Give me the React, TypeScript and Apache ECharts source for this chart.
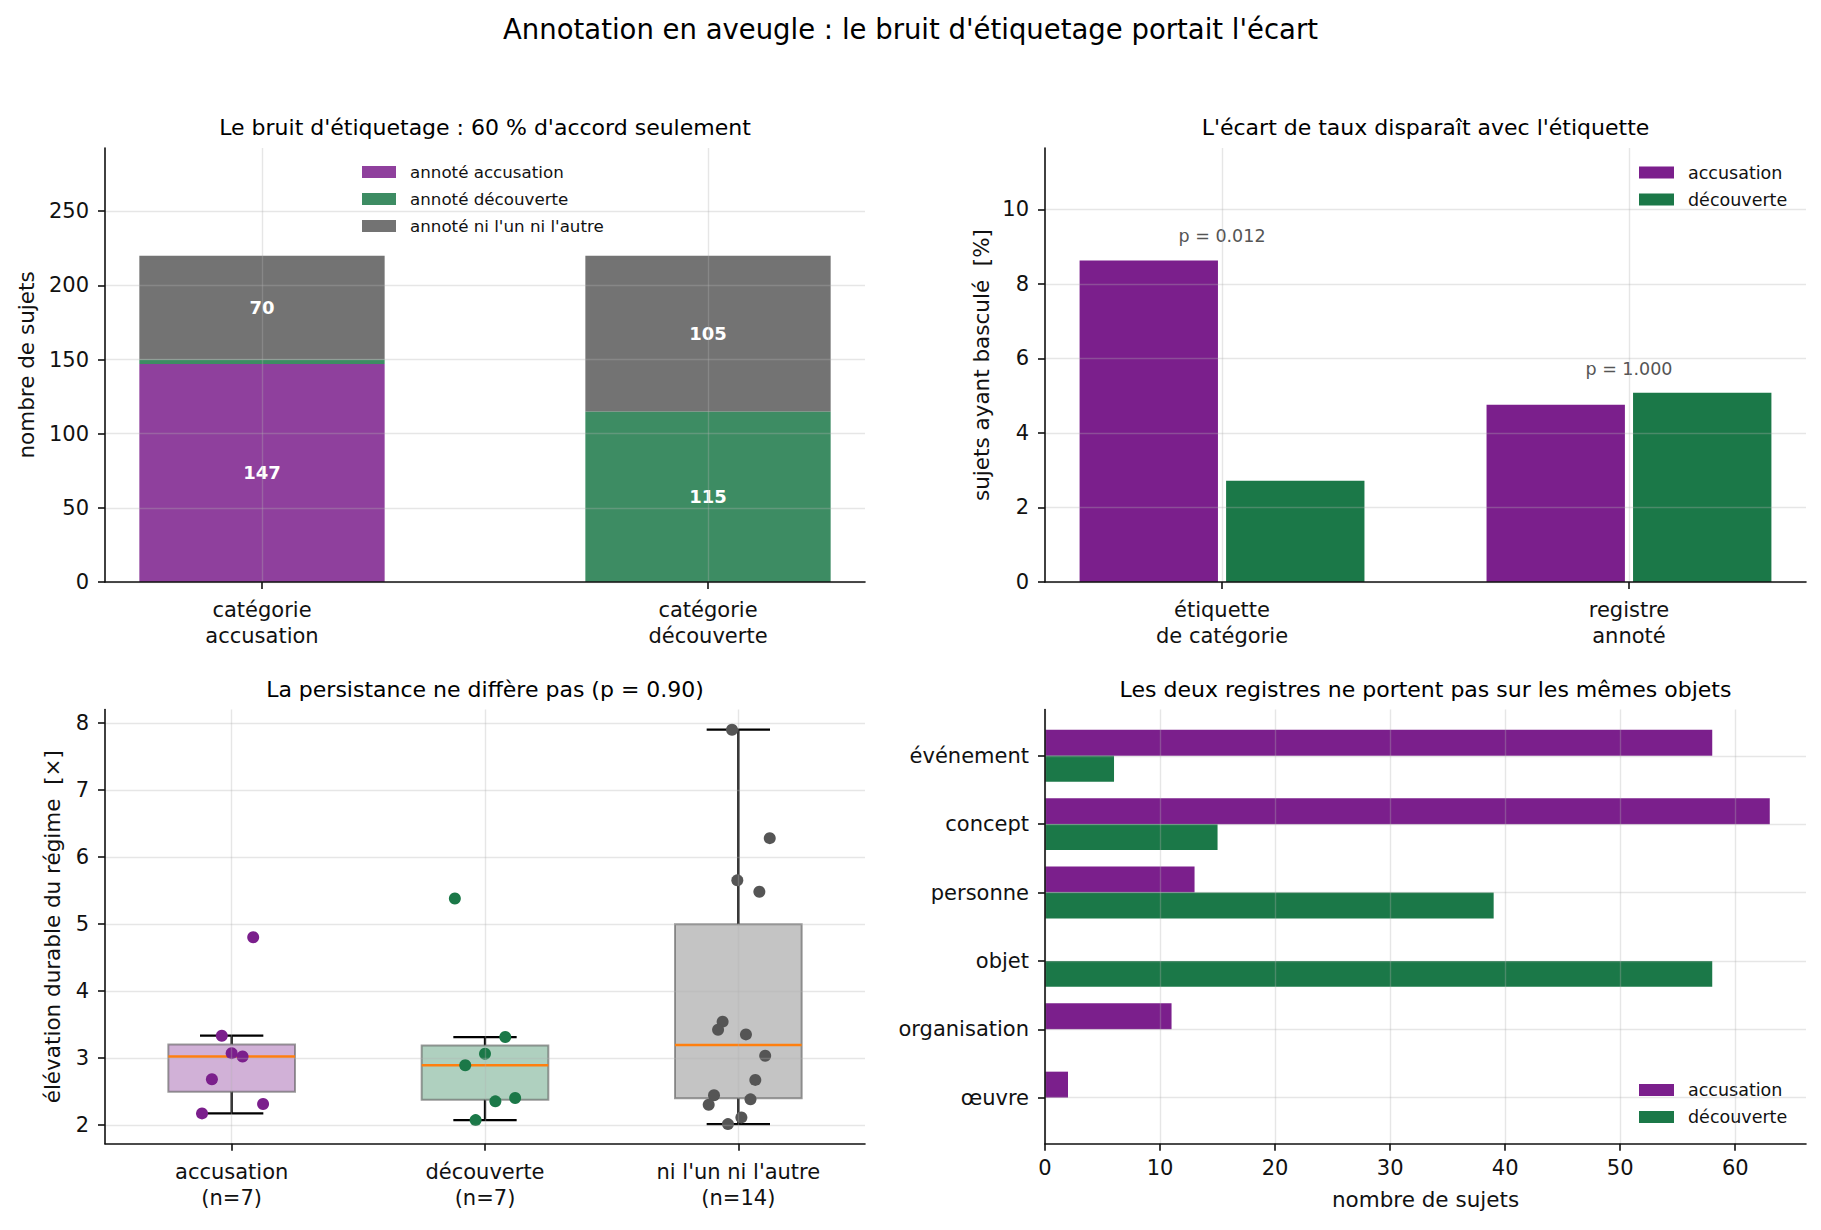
import React, { useEffect, useRef } from "react";
import * as echarts from "echarts";

const FONT = "DejaVu Sans";
const INK = "#111111";

// ---------- Panel A : stacked bars ----------
const stackCategories = ["catégorie\naccusation", "catégorie\ndécouverte"];
const stackNames = ["annoté accusation", "annoté découverte", "annoté ni l'un ni l'autre"];
const annotatedAccusation = [147, 0];
const annotatedDecouverte = [3, 115];
const annotatedNeither = [70, 105];
const ticksA = [0, 50, 100, 150, 200, 250];

// ---------- Panel B : grouped bars ----------
const rateGroups = ["étiquette\nde catégorie", "registre\nannoté"];
const rateAccusation = [8.63, 4.76];
const rateDecouverte = [2.72, 5.08];
const pValueLabels = ["p = 0.012", "p = 1.000"];
const ticksB = [0, 2, 4, 6, 8, 10];

// ---------- Panel C : boxplots + jittered points ----------
const persistGroups = ["accusation\n(n=7)", "découverte\n(n=7)", "ni l'un ni l'autre\n(n=14)"];
const persistAccusation = [4.8, 3.33, 3.07, 3.02, 2.68, 2.31, 2.17];
const jitterAccusation = [0.085, -0.039, 0.0, 0.043, -0.078, 0.124, -0.117];
const persistDecouverte = [5.38, 3.31, 3.06, 2.89, 2.4, 2.35, 2.07];
const jitterDecouverte = [-0.119, 0.08, 0.0, -0.078, 0.119, 0.041, -0.037];
const persistNeither = [7.9, 6.28, 5.65, 5.48, 3.54, 3.42, 3.35, 3.03, 2.67, 2.44, 2.38, 2.3, 2.11, 2.01];
const jitterNeither = [-0.025, 0.124, -0.004, 0.083, -0.062, -0.08, 0.03, 0.106, 0.067, -0.096, 0.048, -0.117, 0.012, -0.041];
const ticksC = [2, 3, 4, 5, 6, 7, 8];

// ---------- Panel D : horizontal grouped bars ----------
const objectTypes = ["événement", "concept", "personne", "objet", "organisation", "œuvre"];
const countAccusation = [58, 63, 13, 0, 11, 2];
const countDecouverte = [6, 15, 39, 58, 0, 0];
const ticksDx = [0, 10, 20, 30, 40, 50, 60];
const ticksDy = [0, 1, 2, 3, 4, 5];

const PURPLE = "#7b1f8c";
const GREEN = "#1b7848";
const rgba = (hex: string, a: number) => {
  const n = parseInt(hex.slice(1), 16);
  return `rgba(${(n >> 16) & 255},${(n >> 8) & 255},${n & 255},${a})`;
};
const GREY_BASE = "#5b5b5b";
const GREY_POINT = "#555555";

function quantile(s: number[], q: number) {
  const pos = (s.length - 1) * q;
  const lo = Math.floor(pos);
  const hi = Math.ceil(pos);
  return s[lo] + (s[hi] - s[lo]) * (pos - lo);
}
function boxStats(vals: number[]) {
  const s = [...vals].sort((a, b) => a - b);
  const q1 = quantile(s, 0.25);
  const med = quantile(s, 0.5);
  const q3 = quantile(s, 0.75);
  const iqr = q3 - q1;
  const lo = s.find((v) => v >= q1 - 1.5 * iqr) as number;
  const hi = [...s].reverse().find((v) => v <= q3 + 1.5 * iqr) as number;
  return [lo, q1, med, q3, hi];
}

const gridLine = { show: true, lineStyle: { color: "rgba(176,176,176,0.32)", width: 1.4 } };
const axisLineStyle = { color: INK, width: 1.6 };

function valueAxis(gridIndex: number, min: number, max: number, ticks: number[], extra: any = {}, labelExtra: any = {}) {
  return {
    type: "value",
    gridIndex,
    min,
    max,
    z: 5,
    axisLine: { show: true, onZero: false, lineStyle: axisLineStyle },
    axisTick: { show: true, inside: false, length: 7, customValues: ticks, lineStyle: axisLineStyle },
    axisLabel: {
      customValues: ticks,
      color: INK,
      fontFamily: FONT,
      fontSize: 21,
      margin: 15,
      ...labelExtra,
    },
    splitLine: gridLine,
    nameTextStyle: { fontFamily: FONT, fontSize: 21.5, color: INK },
    nameLocation: "middle",
    nameMoveOverlap: false,
    ...extra,
  };
}

function App() {
  const ref = useRef<HTMLDivElement>(null);
  useEffect(() => {
    document.body.style.margin = "0";
    if (!ref.current) return;
    const chart = echarts.init(ref.current, undefined, { renderer: "svg" });

    // Panel A data
    const stackSeries = [annotatedAccusation, annotatedDecouverte, annotatedNeither];
    const stackColors = [rgba(PURPLE, 0.85), rgba(GREEN, 0.85), rgba(GREY_BASE, 0.85)];
    const bottoms = stackCategories.map(() => 0);
    const seriesA = stackSeries.map((vals, s) => {
      const data = vals.map((v, i) => {
        const b = bottoms[i];
        bottoms[i] += v;
        return [i, b, b + v, v];
      });
      const color = stackColors[s];
      return {
        type: "custom",
        name: stackNames[s],
        xAxisIndex: 0,
        yAxisIndex: 0,
        itemStyle: { color },
        encode: { x: 0, y: [1, 2] },
        data,
        renderItem: (params: any, api: any) => {
          const x = api.value(0), y0 = api.value(1), y1 = api.value(2), v = api.value(3);
          if (!v) return null;
          const W = 0.55;
          const p0 = api.coord([x - W / 2, y1]);
          const p1 = api.coord([x + W / 2, y0]);
          const children: any[] = [
            { type: "rect", shape: { x: p0[0], y: p0[1], width: p1[0] - p0[0], height: p1[1] - p0[1] }, style: { fill: color } },
          ];
          if (v >= 10) {
            children.push({
              type: "text",
              x: (p0[0] + p1[0]) / 2,
              y: (p0[1] + p1[1]) / 2,
              style: { text: String(v), fill: "#ffffff", fontFamily: FONT, fontSize: 18, fontWeight: "bold", align: "center", verticalAlign: "middle" },
            });
          }
          return { type: "group", children };
        },
      };
    });

    // Panel B
    const rateSeries = [rateAccusation, rateDecouverte];
    const rateColors = [PURPLE, GREEN];
    const rateNames = ["accusation", "découverte"];
    const seriesB: any[] = rateSeries.map((vals, s) => {
      const off = s === 0 ? -0.18 : 0.18;
      const color = rateColors[s];
      return {
        type: "custom",
        name: rateNames[s],
        xAxisIndex: 1,
        yAxisIndex: 1,
        itemStyle: { color },
        encode: { x: 0, y: 1 },
        data: vals.map((v, i) => [i, v]),
        renderItem: (params: any, api: any) => {
          const x = api.value(0) + off, v = api.value(1);
          const W = 0.34;
          const p0 = api.coord([x - W / 2, v]);
          const p1 = api.coord([x + W / 2, 0]);
          return { type: "rect", shape: { x: p0[0], y: p0[1], width: p1[0] - p0[0], height: p1[1] - p0[1] }, style: { fill: color } };
        },
      };
    });
    seriesB.push({
      type: "custom",
      name: "p",
      xAxisIndex: 1,
      yAxisIndex: 1,
      encode: { x: 0, y: 1 },
      data: rateGroups.map((_, i) => [i, Math.max(rateAccusation[i], rateDecouverte[i])]),
      renderItem: (params: any, api: any) => {
        const p = api.coord([api.value(0), api.value(1) + 0.65]);
        return {
          type: "text",
          x: p[0],
          y: p[1],
          style: { text: pValueLabels[params.dataIndex], fill: "#555555", fontFamily: FONT, fontSize: 17.5, align: "center", verticalAlign: "middle" },
        };
      },
    });

    // Panel C
    const persistSets = [persistAccusation, persistDecouverte, persistNeither];
    const jitterSets = [jitterAccusation, jitterDecouverte, jitterNeither];
    const boxFills = [rgba(PURPLE, 0.35), rgba(GREEN, 0.35), rgba(GREY_POINT, 0.35)];
    const pointColors = [PURPLE, GREEN, GREY_POINT];
    const seriesC: any[] = [
      {
        type: "custom",
        name: "boîtes",
        xAxisIndex: 2,
        yAxisIndex: 2,
        encode: { x: 0, y: [1, 2, 3, 4, 5] },
        data: persistSets.map((vals, i) => [i, ...boxStats(vals)]),
        renderItem: (params: any, api: any) => {
          const i = api.value(0);
          const lo = api.value(1), q1 = api.value(2), med = api.value(3), q3 = api.value(4), hi = api.value(5);
          const BW = 0.25, CW = 0.125;
          const c = (x: number, y: number) => api.coord([x, y]);
          const wl = { stroke: "#000000", lineWidth: 2.3 };
          const pLo = c(i, lo), pQ1 = c(i, q1), pQ3 = c(i, q3), pHi = c(i, hi);
          const b0 = c(i - BW, q3), b1 = c(i + BW, q1);
          const m0 = c(i - BW, med), m1 = c(i + BW, med);
          const cl0 = c(i - CW, lo), cl1 = c(i + CW, lo), ch0 = c(i - CW, hi), ch1 = c(i + CW, hi);
          return {
            type: "group",
            children: [
              { type: "line", shape: { x1: pLo[0], y1: pLo[1], x2: pQ1[0], y2: pQ1[1] }, style: wl },
              { type: "line", shape: { x1: pQ3[0], y1: pQ3[1], x2: pHi[0], y2: pHi[1] }, style: wl },
              { type: "line", shape: { x1: cl0[0], y1: cl0[1], x2: cl1[0], y2: cl1[1] }, style: wl },
              { type: "line", shape: { x1: ch0[0], y1: ch0[1], x2: ch1[0], y2: ch1[1] }, style: wl },
              {
                type: "rect",
                shape: { x: b0[0], y: b0[1], width: b1[0] - b0[0], height: b1[1] - b0[1] },
                style: { fill: boxFills[params.dataIndex], stroke: "rgba(90,90,90,0.6)", lineWidth: 2 },
              },
              { type: "line", shape: { x1: m0[0], y1: m0[1], x2: m1[0], y2: m1[1] }, style: { stroke: "#ff7f0e", lineWidth: 2.5 } },
            ],
          };
        },
      },
      ...persistSets.map((vals, g) => ({
        type: "scatter",
        name: "points " + persistGroups[g],
        xAxisIndex: 2,
        yAxisIndex: 2,
        symbol: "circle",
        symbolSize: 12,
        itemStyle: { color: pointColors[g], opacity: 1 },
        data: vals.map((v, k) => [g + jitterSets[g][k], v]),
        z: 3,
      })),
    ];

    // Panel D
    const countSeries = [countAccusation, countDecouverte];
    const seriesD = countSeries.map((vals, s) => {
      const off = s === 0 ? -0.19 : 0.19;
      const color = rateColors[s];
      return {
        type: "custom",
        name: rateNames[s],
        xAxisIndex: 3,
        yAxisIndex: 3,
        itemStyle: { color },
        encode: { x: 0, y: 1 },
        data: vals.map((v, i) => [v, i]),
        renderItem: (params: any, api: any) => {
          const v = api.value(0), c = api.value(1) + off;
          if (!v) return null;
          const H = 0.38;
          const a = api.coord([0, c - H / 2]);
          const b = api.coord([v, c + H / 2]);
          return {
            type: "rect",
            shape: { x: Math.min(a[0], b[0]), y: Math.min(a[1], b[1]), width: Math.abs(b[0] - a[0]), height: Math.abs(b[1] - a[1]) },
            style: { fill: color },
          };
        },
      };
    });

    const titleText = (text: string, x: number, y: number, size: number) => ({
      type: "text",
      x,
      y,
      z: 10,
      style: { text, fill: "#000000", fontFamily: FONT, fontSize: size, align: "center", verticalAlign: "middle" },
    });

    const legendBase = {
      orient: "vertical",
      icon: "rect",
      itemWidth: 35,
      itemHeight: 12,
      itemGap: 7,
      padding: 0,
      selectedMode: false,
      textStyle: { fontFamily: FONT, fontSize: 17.5, color: INK, lineHeight: 20, padding: [0, 0, 0, 9] },
    };

    const option: any = {
      animation: false,
      backgroundColor: "#ffffff",
      textStyle: { fontFamily: FONT },
      graphic: [
        titleText("Annotation en aveugle : le bruit d'étiquetage portait l'écart", 910.5, 28.5, 27.5),
        titleText("Le bruit d'étiquetage : 60 % d'accord seulement", 485, 127.5, 22),
        titleText("L'écart de taux disparaît avec l'étiquette", 1425.5, 127.5, 22),
        titleText("La persistance ne diffère pas (p = 0.90)", 485, 689, 22),
        titleText("Les deux registres ne portent pas sur les mêmes objets", 1425.5, 689, 22),
      ],
      grid: [
        { left: 105, top: 148, width: 760, height: 434, outerBoundsMode: "none" },
        { left: 1045, top: 148, width: 761, height: 434, outerBoundsMode: "none" },
        { left: 105, top: 709.6, width: 760, height: 434.2, outerBoundsMode: "none" },
        { left: 1045, top: 709.6, width: 761, height: 434.2, outerBoundsMode: "none" },
      ],
      legend: [
        {
          ...legendBase,
          data: stackNames,
          left: 362,
          top: 162,
          itemWidth: 34,
          textStyle: { ...legendBase.textStyle, fontSize: 16.7 },
        },
        { ...legendBase, data: rateNames, left: 1639, top: 162.5 },
        { ...legendBase, data: rateNames, left: 1639, top: 1080 },
      ],
      xAxis: [
        valueAxis(0, -0.352, 1.352, [0, 1], {}, { formatter: (v: number) => stackCategories[Math.round(v)], lineHeight: 26, margin: 15 }),
        valueAxis(1, -0.435, 1.435, [0, 1], {}, { formatter: (v: number) => rateGroups[Math.round(v)], lineHeight: 26, margin: 15 }),
        valueAxis(2, -0.5, 2.5, [0, 1, 2], {}, { formatter: (v: number) => persistGroups[Math.round(v)], lineHeight: 26, margin: 15 }),
        valueAxis(3, 0, 66.15, ticksDx, { name: "nombre de sujets", nameGap: 45 }, { margin: 14 }),
      ],
      yAxis: [
        valueAxis(0, 0, 292.6, ticksA, { name: "nombre de sujets", nameGap: 68 }, { margin: 16 }),
        valueAxis(1, 0, 11.65, ticksB, { name: "sujets ayant basculé  [%]", nameGap: 53 }, { margin: 16 }),
        valueAxis(2, 1.716, 8.2, ticksC, { name: "élévation durable du régime  [×]", nameGap: 42 }, { margin: 16 }),
        valueAxis(3, -0.675, 5.675, ticksDy, { inverse: true }, { formatter: (v: number) => objectTypes[Math.round(v)], margin: 16 }),
      ],
      series: [...seriesA, ...seriesB, ...seriesC, ...seriesD],
    };
    chart.setOption(option);
    return () => chart.dispose();
  }, []);
  return <div ref={ref} style={{ width: 1821, height: 1230 }} />;
}

export default App;
